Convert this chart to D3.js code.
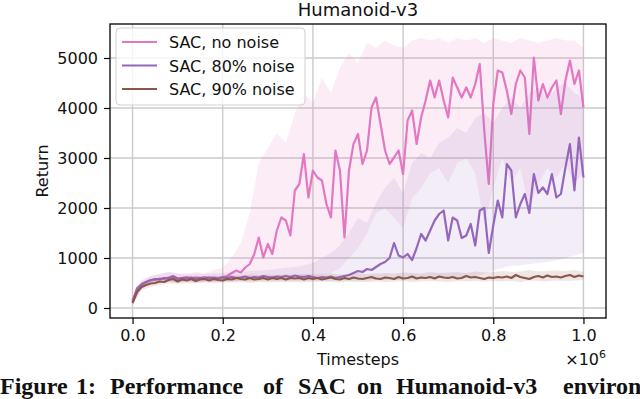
<!DOCTYPE html>
<html>
<head>
<meta charset="utf-8">
<script src="https://cdn.jsdelivr.net/npm/d3@7"></script>
<style>
  body { margin: 0; background: #fff; }
  svg { display: block; }
  text { font-family: "DejaVu Sans", sans-serif; fill: #111; }
</style>
</head>
<body>
<div id="vis"></div>
<script>
// timesteps (in units of 1e6) for the mean curves and for the seed bands
const steps = d3.range(0, 101).map(i => i / 100);
const bandSteps = d3.range(0, 51).map(i => i / 50);

const seriesNames = ["SAC, no noise", "SAC, 80% noise", "SAC, 90% noise"];
const seriesColors = ["#e377c2", "#9467bd", "#8c564b"];
const bandOpacity = [0.14, 0.12, 0.14];
const yTicks = [0, 1000, 2000, 3000, 4000, 5000];
const xTicks = [0, 0.2, 0.4, 0.6, 0.8, 1.0];

// mean return, one value per 0.01e6 steps
const noNoise = [
  150, 400, 480, 520, 550, 560, 590, 580, 610, 640,
  590, 600, 620, 590, 610, 600, 620, 590, 610, 600,
  620, 640, 700, 750, 710, 810, 880, 1080, 1410, 1010,
  1280, 1080, 1550, 1810, 1750, 1450, 2350, 2480, 3080, 2210,
  2750, 2610, 2550, 2080, 1810, 3150, 2750, 1410, 2750, 3280,
  3480, 2880, 3150, 4010, 4210, 3680, 3150, 2880, 3010, 3150,
  2680, 3750, 3950, 3280, 3810, 4150, 4550, 4210, 4550, 4150,
  3810, 4610, 4410, 4210, 4410, 4210, 4480, 4880, 3550, 2480,
  4080, 4750, 4710, 4350, 3880, 4480, 4750, 4610, 3480, 5010,
  4150, 4480, 4210, 4410, 4550, 3880, 4550, 4950, 4480, 4750,
  4010
];
const noise80 = [
  120, 380, 470, 520, 560, 580, 570, 600, 590, 630,
  580, 600, 590, 610, 580, 600, 590, 610, 600, 590,
  610, 600, 620, 600, 610, 630, 600, 620, 610, 640,
  620, 610, 630, 620, 640, 620, 650, 630, 620, 640,
  620, 600, 620, 610, 630, 600, 620, 640, 660, 700,
  740, 720, 780, 760, 820, 880, 920, 1000, 1300, 1050,
  1010, 1080, 960, 1200, 1480, 1350, 1550, 1750, 1880, 1950,
  1350, 1810, 1750, 1400, 1450, 1680, 1250, 1950, 2000, 1100,
  1650, 2150, 1810, 2880, 2750, 1810, 2080, 2280, 1900, 2680,
  2300, 2410, 2280, 2680, 2210, 2280, 2810, 3280, 2350, 3410,
  2610
];
const noise90 = [
  100, 320, 420, 460, 490, 500, 530, 520, 560, 580,
  530, 570, 550, 580, 540, 570, 580, 550, 580, 560,
  550, 580, 570, 600, 580, 570, 600, 570, 580, 600,
  570, 600, 580, 600, 570, 600, 590, 600, 570, 600,
  580, 600, 570, 590, 610, 580, 570, 600, 580, 610,
  590, 580, 600, 620, 590, 580, 610, 600, 580, 620,
  590, 600, 630, 590, 610, 600, 620, 590, 630, 610,
  600, 620, 590, 600, 640, 610, 620, 600, 580, 610,
  600, 620, 610, 630, 600, 660, 620, 600, 580, 620,
  640, 610, 650, 620, 630, 610, 640, 660, 620, 650,
  630
];

// spread of the individual seeds, one value per 0.02e6 steps
const noNoiseHi = [
  200, 560, 640, 680, 720, 700, 690, 720, 700, 760,
  800, 1000, 1300, 1900, 2900, 3200, 3500, 3300, 3900, 4300,
  4100, 4600, 4300, 4800, 5100, 4900, 5300, 5200, 5350, 5250,
  5200, 5350, 5400, 5350, 5400, 5300, 5400, 5350, 5400, 5300,
  5400, 5350, 5300, 5400, 5350, 5300, 5350, 5400, 5350, 5350,
  5200
];
const noNoiseLo = [
  80, 400, 470, 500, 520, 510, 520, 510, 520, 520,
  530, 540, 540, 550, 560, 560, 570, 570, 580, 600,
  620, 650, 700, 800, 1000, 1200, 1500, 1900, 2000, 1800,
  1600, 2200, 2400, 2700, 2800, 2500, 2900, 3000, 2700, 1700,
  2400, 3000, 2500, 2800, 2000, 2500, 2800, 2600, 2900, 2500,
  2700
];
const noise80Hi = [
  180, 540, 640, 680, 720, 680, 670, 690, 680, 700,
  700, 720, 720, 740, 750, 760, 780, 800, 820, 850,
  900, 1000, 1100, 1250, 1500, 1800, 1700, 2100, 2400, 2600,
  2300, 2900, 3100, 3000, 3300, 3400, 3600, 3500, 3800, 3900,
  3700, 4000, 4200, 4000, 4300, 4400, 4200, 4400, 4500, 4300,
  4200
];
const noise80Lo = [
  80, 400, 480, 510, 520, 520, 530, 520, 530, 530,
  530, 530, 540, 530, 540, 540, 540, 540, 540, 540,
  540, 540, 540, 550, 540, 550, 550, 560, 560, 560,
  560, 570, 580, 590, 600, 600, 610, 620, 640, 680,
  750, 800, 850, 850, 880, 900, 920, 950, 1000, 1050,
  1100
];
const noise90Hi = [
  200, 480, 560, 600, 630, 620, 630, 640, 640, 650,
  640, 660, 650, 670, 660, 670, 660, 670, 660, 680,
  670, 680, 690, 670, 680, 700, 680, 690, 700, 690,
  710, 700, 690, 720, 700, 710, 720, 700, 730, 710,
  720, 740, 720, 730, 760, 730, 740, 750, 740, 760,
  720
];
const noise90Lo = [
  60, 360, 420, 460, 490, 480, 500, 490, 510, 500,
  510, 510, 520, 500, 520, 510, 520, 510, 520, 510,
  520, 530, 520, 510, 530, 520, 520, 530, 520, 530,
  540, 520, 530, 540, 530, 520, 540, 530, 540, 530,
  540, 530, 540, 520, 550, 540, 530, 550, 540, 550,
  560
];

const means = [noNoise, noise80, noise90];
const bandsHi = [noNoiseHi, noise80Hi, noise90Hi];
const bandsLo = [noNoiseLo, noise80Lo, noise90Lo];

const width = 640, height = 399;
const margin = {left: 110, right: 34, top: 24, bottom: 81};

const svg = d3.select("#vis").append("svg")
    .attr("width", width)
    .attr("height", height);

const x = d3.scaleLinear().domain([-0.05, 1.05]).range([margin.left, width - margin.right]);
const y = d3.scaleLinear().domain([-200, 5680]).range([height - margin.bottom, margin.top]);

svg.append("clipPath").attr("id", "plot")
  .append("rect")
    .attr("x", x.range()[0]).attr("y", y.range()[1])
    .attr("width", x.range()[1] - x.range()[0])
    .attr("height", y.range()[0] - y.range()[1]);

// grid
const grid = svg.append("g").attr("stroke", "#cbcbcb").attr("stroke-width", 1.4);
grid.selectAll(".gx").data(xTicks).enter().append("line")
    .attr("x1", d => x(d)).attr("x2", d => x(d))
    .attr("y1", y.range()[0]).attr("y2", y.range()[1]);
grid.selectAll(".gy").data(yTicks).enter().append("line")
    .attr("x1", x.range()[0]).attr("x2", x.range()[1])
    .attr("y1", d => y(d)).attr("y2", d => y(d));

// bands then mean line, per series
const plot = svg.append("g").attr("clip-path", "url(#plot)");
const area = d3.area()
    .x((d, i) => x(bandSteps[i]))
    .y0((d, i) => y(d[0]))
    .y1((d, i) => y(d[1]));
const line = d3.line()
    .x((d, i) => x(steps[i]))
    .y(d => y(d));

means.forEach(function(m, k){
    let band = bandsLo[k].map((lo, i) => [lo, bandsHi[k][i]]);
    plot.append("path")
        .attr("d", area(band))
        .attr("fill", seriesColors[k])
        .attr("fill-opacity", bandOpacity[k]);
    plot.append("path")
        .attr("d", line(m))
        .attr("fill", "none")
        .attr("stroke", seriesColors[k])
        .attr("stroke-width", 2.2)
        .attr("stroke-linejoin", "round");
});

// axes
const xAxis = d3.axisBottom(x).tickValues(xTicks).tickFormat(d3.format(".1f")).tickSize(6).tickPadding(6);
const yAxis = d3.axisLeft(y).tickValues(yTicks).tickFormat(d3.format("d")).tickSize(6).tickPadding(6);

svg.append("g").attr("transform", "translate(0," + y.range()[0] + ")").call(xAxis)
    .call(g => g.select(".domain").remove());
svg.append("g").attr("transform", "translate(" + x.range()[0] + ",0)").call(yAxis)
    .call(g => g.select(".domain").remove());
svg.selectAll(".tick line").attr("stroke", "#000").attr("stroke-width", 1.2);
svg.selectAll(".tick text").style("font-size", "16px").attr("fill", "#111");

svg.append("rect")
    .attr("x", x.range()[0]).attr("y", y.range()[1])
    .attr("width", x.range()[1] - x.range()[0])
    .attr("height", y.range()[0] - y.range()[1])
    .attr("fill", "none").attr("stroke", "#000").attr("stroke-width", 1.3);

// labels
const cx = (x.range()[0] + x.range()[1]) / 2;
svg.append("text").attr("x", cx).attr("y", 16).attr("text-anchor", "middle")
    .style("font-size", "18px").text("Humanoid-v3");
svg.append("text").attr("x", cx).attr("y", 365).attr("text-anchor", "middle")
    .style("font-size", "16px").text("Timesteps");
svg.append("text").attr("transform", "translate(48," + ((y.range()[0] + y.range()[1]) / 2) + ") rotate(-90)")
    .attr("text-anchor", "middle").style("font-size", "16px").text("Return");
const mult = svg.append("text").attr("x", x.range()[1]).attr("y", 365).attr("text-anchor", "end")
    .style("font-size", "16px");
mult.append("tspan").text("×10");
mult.append("tspan").attr("dy", -7).style("font-size", "11px").text("6");

// legend
const legend = svg.append("g");
legend.append("rect")
    .attr("x", 116).attr("y", 28).attr("width", 189).attr("height", 77).attr("rx", 4)
    .attr("fill", "#fff").attr("fill-opacity", 0.8)
    .attr("stroke", "#d0d0d0").attr("stroke-width", 1);
const items = legend.selectAll(".item").data(seriesNames).enter().append("g")
    .attr("transform", (d, i) => "translate(122," + (42 + i * 23.5) + ")");
items.append("line").attr("x1", 0).attr("x2", 35)
    .attr("stroke", (d, i) => seriesColors[i]).attr("stroke-width", 2.2);
items.append("text").attr("x", 47).attr("y", 6).style("font-size", "16px").text(d => d);

// caption, as far as the page shows it
const captionWords = ["Figure", "1:", "Performance", "of", "SAC", "on", "Humanoid-v3", "environ"];
const captionX = [0, 76, 110, 263, 298, 357, 396, 563];
const caption = svg.append("text").attr("y", 394)
    .style("font-family", "'Liberation Serif', serif").style("font-weight", "bold").style("font-size", "24px");
caption.selectAll("tspan").data(captionWords).enter().append("tspan")
    .attr("x", (d, i) => captionX[i]).text(d => d);
</script>
</body>
</html>
